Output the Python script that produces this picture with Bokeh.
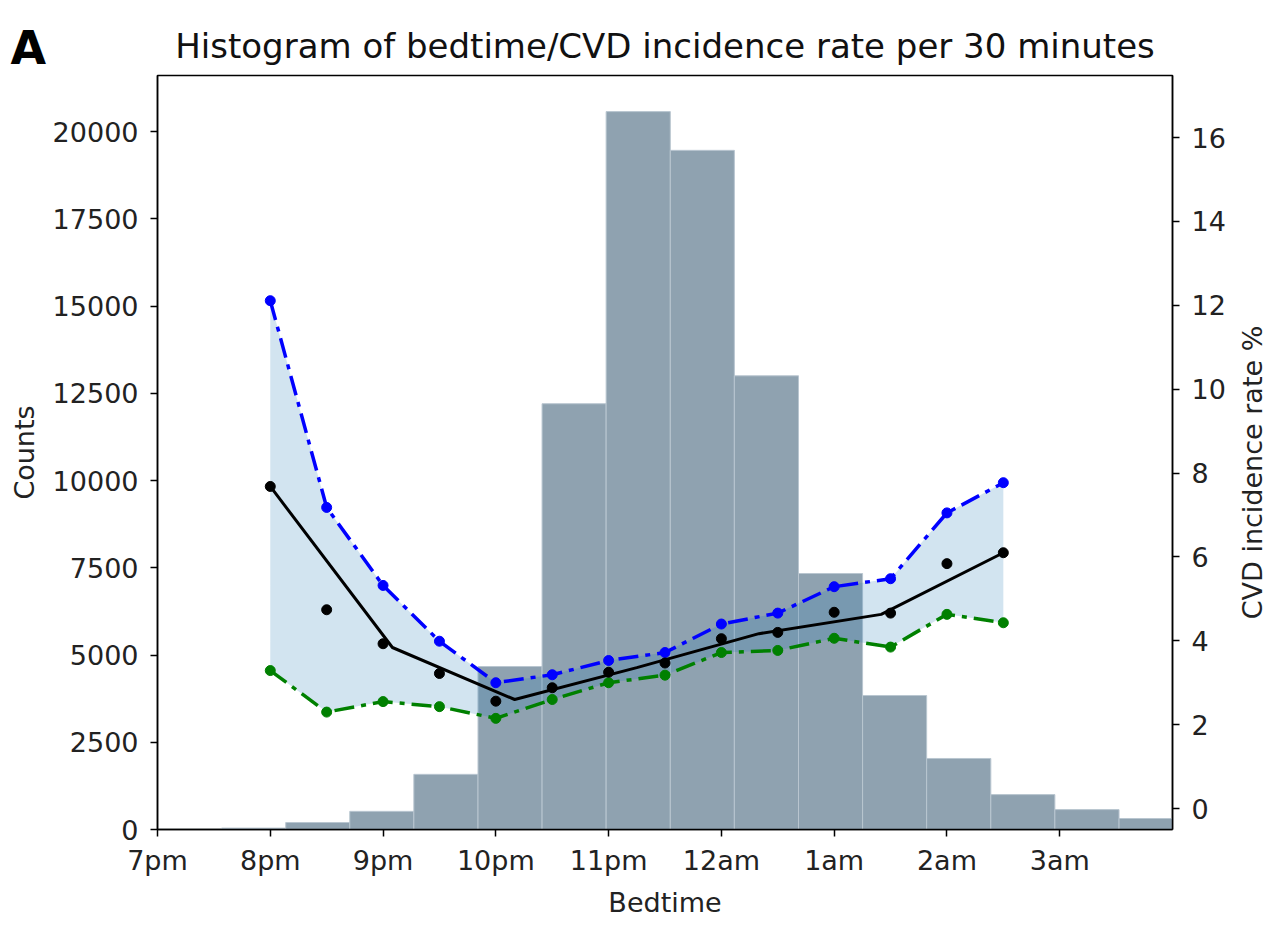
import math
from bokeh.plotting import figure
from bokeh.models import Range1d, LinearAxis, FixedTicker, GridBox
from bokeh.core.properties import value
from bokeh.embed import file_html
from bokeh.resources import INLINE

# ---- data ----
# histogram of bedtime (hours since midnight of the previous day; 19 = 7pm, 24 = 12am)
bin_edges = [19.0, 19.568, 20.137, 20.705, 21.273, 21.842, 22.41, 22.978, 23.547,
             24.115, 24.684, 25.252, 25.82, 26.389, 26.957, 27.526, 28.094]
bin_counts = [5, 40, 200, 520, 1580, 4670, 12200, 20570, 19460, 13000, 7335,
              3840, 2035, 1000, 570, 315]

# CVD incidence rate per 30 minutes
rate_times = [20.0, 20.5, 21.0, 21.5, 22.0, 22.5, 23.0, 23.5, 24.0, 24.5, 25.0, 25.5, 26.0, 26.5]
rate_upper = [12.11, 7.18, 5.32, 3.99, 3.0, 3.19, 3.53, 3.72, 4.40, 4.66, 5.29, 5.48, 7.05, 7.77]
rate_mean = [7.68, 4.74, 3.93, 3.22, 2.56, 2.88, 3.25, 3.47, 4.05, 4.20, 4.68, 4.66, 5.84, 6.10]
rate_lower = [3.29, 2.30, 2.55, 2.43, 2.15, 2.60, 3.00, 3.18, 3.72, 3.77, 4.06, 3.85, 4.63, 4.43]

# fitted trend
fit_times = [20.0, 21.083, 22.167, 23.25, 24.333, 25.417, 26.5]
fit_rate = [7.68, 3.84, 2.60, 3.36, 4.17, 4.63, 6.10]

x_ticks = [19, 20, 21, 22, 23, 24, 25, 26, 27]
x_tick_labels = ["7pm", "8pm", "9pm", "10pm", "11pm", "12am", "1am", "2am", "3am"]
count_ticks = [0, 2500, 5000, 7500, 10000, 12500, 15000, 17500, 20000]
rate_ticks = [0, 2, 4, 6, 8, 10, 12, 14, 16]

FONT = "DejaVu Sans"
W, H = 1272, 920

p = figure(width=W, height=H, output_backend="svg", toolbar_location=None,
           x_range=Range1d(19, 28), y_range=Range1d(0, 21605),
           min_border_left=157, min_border_right=100, min_border_top=75, min_border_bottom=91,
           title="Histogram of bedtime/CVD incidence rate per 30 minutes")
p.extra_y_ranges = {"rate": Range1d(-0.5, 17.48)}

p.title.align = "center"
p.title.text_font = FONT
p.title.text_font_size = "34px"
p.title.text_font_style = "normal"
p.title.text_color = "#111111"
p.title.standoff = 20

p.grid.visible = False
p.outline_line_color = "black"
p.outline_line_width = 1.5
p.outline_line_alpha = 1.0

# histogram bars
p.quad(left=bin_edges[:-1], right=bin_edges[1:], bottom=0, top=bin_counts,
       fill_color="#8fa2b0", line_color="#b9c6d0", line_width=1)

# confidence band
p.varea(x=rate_times, y1=rate_lower, y2=rate_upper, y_range_name="rate",
        fill_color="#1f77b4", fill_alpha=0.2)

# upper / lower lines
p.line(rate_times, rate_upper, y_range_name="rate", line_color="#0000ff",
       line_width=3.5, line_dash="20 7 5 7")
p.scatter(rate_times, rate_upper, y_range_name="rate", size=10,
          fill_color="#0000ff", line_color="#0000ff")
p.line(rate_times, rate_lower, y_range_name="rate", line_color="#008000",
       line_width=3.5, line_dash="20 7 5 7")
p.scatter(rate_times, rate_lower, y_range_name="rate", size=10,
          fill_color="#008000", line_color="#008000")

# trend and observed rates
p.line(fit_times, fit_rate, y_range_name="rate", line_color="black", line_width=3)
p.scatter(rate_times, rate_mean, y_range_name="rate", size=10,
          fill_color="black", line_color="black")

# axes styling
def style_axis(ax):
    ax.axis_line_color = "black"
    ax.axis_line_width = 1.5
    ax.major_tick_line_color = "black"
    ax.major_tick_line_width = 1.5
    ax.major_tick_out = 7
    ax.major_tick_in = 0
    ax.minor_tick_line_color = None
    ax.major_label_text_font = FONT
    ax.major_label_text_font_size = "27px"
    ax.major_label_text_color = "#222222"
    ax.axis_label_text_font = FONT
    ax.axis_label_text_font_size = "27px"
    ax.axis_label_text_font_style = "normal"
    ax.axis_label_text_color = "#222222"

xa = p.xaxis[0]
xa.ticker = FixedTicker(ticks=x_ticks)
xa.major_label_overrides = {t: l for t, l in zip(x_ticks, x_tick_labels)}
xa.axis_label = "Bedtime"
style_axis(xa)
xa.major_label_standoff = 8
xa.axis_label_standoff = 8

ya = p.yaxis[0]
ya.ticker = FixedTicker(ticks=count_ticks)
ya.axis_label = "Counts"
style_axis(ya)
ya.major_label_standoff = 12
ya.axis_label_standoff = 10

ra = LinearAxis(y_range_name="rate")
ra.ticker = FixedTicker(ticks=rate_ticks)
style_axis(ra)
ra.major_label_standoff = 12
p.add_layout(ra, "right")

# transparent overlay (canvas pixel coordinates) for texts outside the plot frame
ov = figure(width=W, height=H, output_backend="svg", toolbar_location=None,
            x_range=Range1d(0, W), y_range=Range1d(0, H), min_border=0)
ov.axis.visible = False
ov.grid.visible = False
ov.outline_line_color = None
ov.background_fill_color = None
ov.border_fill_color = None
for fig in (p, ov):
    if "frame_align" in fig.properties():
        fig.frame_align = False

# right axis label, reading bottom-to-top
ov.text(x=[1252], y=[H - 472], text=["CVD incidence rate %"], angle=math.pi / 2,
        text_align="center", text_baseline="middle", text_font=value(FONT),
        text_font_size="27px", text_color="#222222")
# panel letter
ov.text(x=[10], y=[H - 20], text=["A"], text_align="left", text_baseline="top",
        text_font=value(FONT), text_font_size="46px", text_font_style="bold",
        text_color="black")

layout = GridBox(children=[(p, 0, 0), (ov, 0, 0)])

open("out.html", "w").write(file_html(layout, INLINE))
